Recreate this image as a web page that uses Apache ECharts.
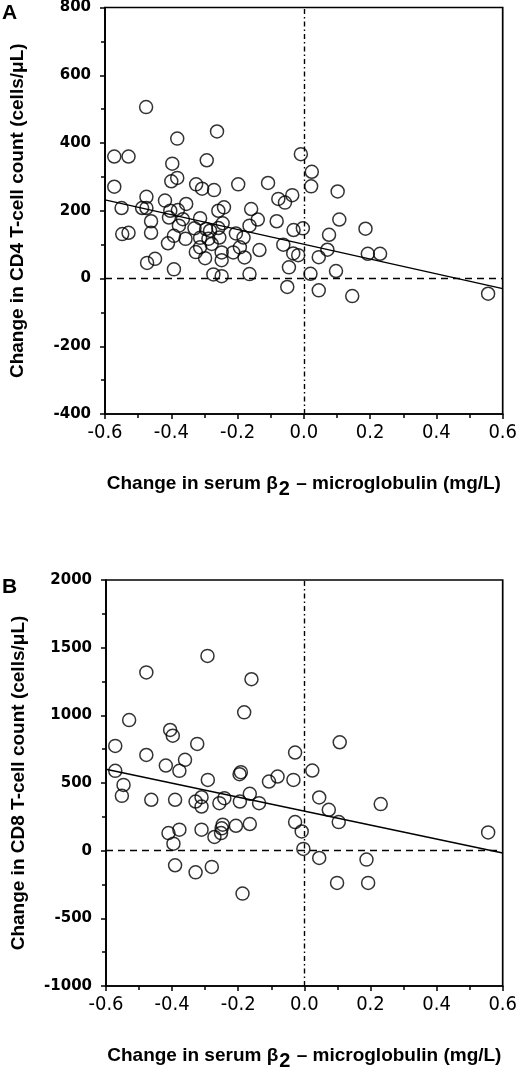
<!DOCTYPE html>
<html>
<head>
<meta charset="utf-8">
<script src="https://cdn.jsdelivr.net/npm/echarts@6/dist/echarts.min.js"></script>
<style>
html,body{margin:0;padding:0;background:#fff;}
#chart{width:520px;height:1072px;}
</style>
</head>
<body>
<div id="chart"></div>
<script>
// Panel A: change in CD4 vs change in serum beta2-microglobulin
const cd4X = [-0.476,-0.572,-0.529,-0.382,-0.262,-0.397,-0.293,-0.572,-0.400,-0.382,
  -0.325,-0.307,-0.271,-0.198,-0.108,-0.077,-0.057,-0.475,-0.419,-0.355,
  -0.550,-0.488,-0.475,-0.403,-0.380,-0.407,-0.365,-0.461,-0.548,-0.529,
  -0.461,-0.377,-0.392,-0.410,-0.357,-0.330,-0.313,-0.295,-0.283,-0.258,
  -0.241,-0.245,-0.255,-0.278,-0.313,-0.313,-0.326,-0.298,-0.248,-0.248,
  -0.273,-0.248,-0.392,-0.473,-0.449,-0.213,-0.193,-0.179,-0.205,-0.182,
  -0.164,-0.159,-0.139,-0.134,-0.164,-0.082,-0.062,-0.045,-0.050,-0.009,
  0.024,0.022,0.102,-0.035,0.107,0.186,-0.003,-0.031,0.076,0.071,
  -0.032,-0.017,0.045,0.193,0.230,0.020,0.097,0.045,0.146,0.556,
  -0.258,-0.288];
const cd4Y = [506,360,360,413,434,339,349,271,287,297,
  278,265,261,278,282,235,224,241,230,220,
  208,208,208,200,202,180,175,169,131,135,
  135,156,126,104,117,148,178,146,141,200,
  210,163,121,102,120,92,78,60,77,54,
  12,7,27,46,58,77,92,62,133,121,
  156,205,174,84,13,169,100,33,-25,367,
  315,272,257,246,174,147,148,143,129,85,
  74,69,63,73,73,14,22,-35,-52,-45,
  149,117];
const fitAX = [-0.6, 0.6];
const fitAY = [232, -30];

// Panel B: change in CD8 vs change in serum beta2-microglobulin
const cd8X = [-0.293,-0.478,-0.160,-0.530,-0.182,-0.572,-0.406,-0.398,-0.324,-0.478,
  -0.419,-0.361,-0.378,-0.028,-0.572,-0.192,-0.196,-0.107,-0.081,-0.033,
  -0.292,-0.547,-0.552,-0.463,-0.391,-0.329,-0.311,-0.311,-0.257,-0.242,
  -0.195,-0.165,-0.137,0.024,0.045,0.074,0.231,-0.028,-0.008,0.104,
  0.556,-0.003,0.045,0.188,0.099,0.193,-0.411,-0.378,-0.396,-0.311,
  -0.272,-0.252,-0.247,-0.207,-0.165,-0.391,-0.329,-0.280,-0.187,-0.250,
  0.107];
const cd8Y = [1439,1317,1267,965,1022,774,892,850,789,707,
  629,671,590,725,590,580,565,511,548,523,
  523,486,405,376,376,363,395,326,351,388,
  363,420,351,592,393,302,344,211,142,211,
  135,13,-54,-66,-238,-238,130,155,52,155,
  101,130,192,184,197,-108,-160,-120,-317,165,
  801];
const fitBX = [-0.6, 0.6];
const fitBY = [602, -17];

const xTicks = {min: -0.6, max: 0.6, interval: 0.2};
const yTicksA = {min: -400, max: 800, interval: 200};
const yTicksB = {min: -1000, max: 2000, interval: 500};

const xTitle = 'Change in serum β{sub|2} – microglobulin (mg/L)';
const yTitleA = 'Change in CD4 T-cell count (cells/μL)';
const yTitleB = 'Change in CD8 T-cell count (cells/μL)';

const zip = (xs, ys) => xs.map((x, i) => [x, ys[i]]);

const chart = echarts.init(document.getElementById('chart'), null, {renderer: 'canvas'});

const axisLine = {show: true, onZero: false, lineStyle: {color: '#000', width: 1.7}};
const narrowFont = "'Liberation Sans Narrow','DejaVu Sans Condensed','Arial Narrow',sans-serif";
const boldTitleFont = "'Liberation Sans',Arial,sans-serif";

function makeX(gridIndex) {
  return {
    type: 'value', gridIndex,
    min: xTicks.min, max: xTicks.max, interval: xTicks.interval,
    axisLine,
    axisTick: {show: true, length: 5, lineStyle: {color: '#000', width: 1.5}},
    minorTick: {show: true, splitNumber: 2, length: 4, lineStyle: {color: '#000', width: 1.5}},
    splitLine: {show: false},
    axisLabel: {
      color: '#000', fontFamily: narrowFont, fontSize: 20, margin: 9,
      formatter: v => (Math.abs(v) < 1e-9 ? 0 : v).toFixed(1)
    },
    name: xTitle, nameLocation: 'middle', nameGap: 55,
    nameTextStyle: {
      color: '#000', fontFamily: boldTitleFont, fontWeight: 'bold', fontSize: 19,
      rich: {sub: {fontFamily: boldTitleFont, fontWeight: 'bold', fontSize: 20, padding: [10, 1, 0, 1]}}
    }
  };
}
function makeY(gridIndex, t, title) {
  return {
    type: 'value', gridIndex,
    min: t.min, max: t.max, interval: t.interval,
    axisLine,
    axisTick: {show: true, length: 5, lineStyle: {color: '#000', width: 1.5}},
    minorTick: {show: true, splitNumber: 2, length: 4, lineStyle: {color: '#000', width: 1.5}},
    splitLine: {show: false},
    axisLabel: {
      color: '#000', fontFamily: "'DejaVu Sans',sans-serif", fontWeight: 'bold', fontSize: 15, margin: 14,
      formatter: v => String(Math.round(v))
    },
    name: title, nameLocation: 'middle', nameGap: 78, nameRotate: 90,
    nameTextStyle: {color: '#000', fontFamily: boldTitleFont, fontWeight: 'bold', fontSize: 19}
  };
}

const refLines = {
  silent: true, symbol: 'none', label: {show: false},
  data: [
    {yAxis: 0, lineStyle: {type: [7, 5], color: '#000', width: 1.4}},
    {xAxis: 0, lineStyle: {type: [5, 3, 1.5, 3], color: '#000', width: 1.4}}
  ]
};

const scatterStyle = {
  symbol: 'circle', symbolSize: 13,
  itemStyle: {color: 'rgba(0,0,0,0)', borderColor: '#000', borderWidth: 1.5},
  emphasis: {disabled: true}
};

chart.setOption({
  animation: false,
  backgroundColor: '#fff',
  grid: [
    {left: 104, right: 13, top: 6, height: 408, show: true, borderColor: '#000', borderWidth: 1.7, backgroundColor: 'transparent'},
    {left: 106, right: 12, top: 580, height: 407, show: true, borderColor: '#000', borderWidth: 1.7, backgroundColor: 'transparent'}
  ],
  xAxis: [makeX(0), makeX(1)],
  yAxis: [makeY(0, yTicksA, yTitleA), makeY(1, yTicksB, yTitleB)],
  graphic: [
    {type: 'text', left: 2, top: 3, style: {text: 'A', font: "bold 21px 'Liberation Sans', Arial, sans-serif", fill: '#000'}},
    {type: 'text', left: 2, top: 577, style: {text: 'B', font: "bold 21px 'Liberation Sans', Arial, sans-serif", fill: '#000'}}
  ],
  series: [
    Object.assign({type: 'scatter', xAxisIndex: 0, yAxisIndex: 0, data: zip(cd4X, cd4Y), markLine: refLines, z: 3}, scatterStyle),
    {type: 'line', xAxisIndex: 0, yAxisIndex: 0, data: zip(fitAX, fitAY), symbol: 'none', lineStyle: {color: '#000', width: 1.4}, silent: true, z: 2},
    Object.assign({type: 'scatter', xAxisIndex: 1, yAxisIndex: 1, data: zip(cd8X, cd8Y), markLine: refLines, z: 3}, scatterStyle),
    {type: 'line', xAxisIndex: 1, yAxisIndex: 1, data: zip(fitBX, fitBY), symbol: 'none', lineStyle: {color: '#000', width: 1.4}, silent: true, z: 2}
  ]
});
</script>
</body>
</html>
